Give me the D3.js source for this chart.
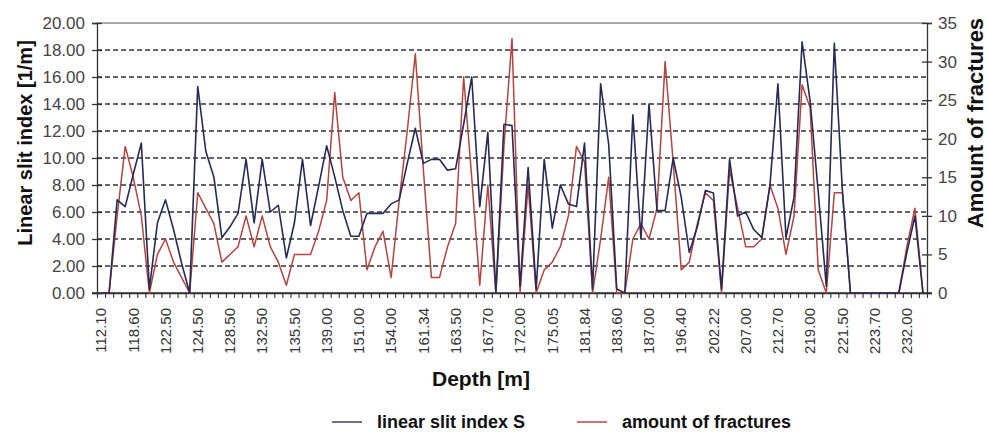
<!DOCTYPE html>
<html>
<head>
<meta charset="utf-8">
<script src="https://cdn.jsdelivr.net/npm/d3@7"></script>
<style>
  html, body { margin: 0; padding: 0; background: #fff; }
  svg { display: block; font-family: "Liberation Sans", Arial, sans-serif; }
</style>
</head>
<body>
<svg id="chart" width="988" height="432"></svg>
<script>
// ---- data ----
const tickLabels = ["112.10","118.60","122.50","124.50","128.50","132.50","135.50","139.00","151.00","154.00","161.34","163.50","167.70","172.00","175.05","181.84","183.60","187.00","196.40","202.22","207.00","212.70","219.00","221.50","223.70","232.00"];
const labelEvery = 4;

const slitIndex = [
  0, 0, 6.9, 6.4, 8.8, 11.1, 0.3, 5.2, 6.9, 4.7,
  2.2, 0, 15.3, 10.5, 8.6, 4.1, 4.9, 5.9, 9.9, 5.2,
  9.9, 6.0, 6.5, 2.6, 5.2, 9.9, 5.0, 7.9, 10.9, 8.6,
  6.1, 4.2, 4.2, 5.9, 5.9, 5.9, 6.6, 6.9, 9.6, 12.2,
  9.6, 9.9, 9.9, 9.1, 9.2, 12.5, 16.0, 6.4, 11.9, 0,
  12.5, 12.4, 0.5, 9.3, 0.3, 9.9, 4.8, 8.0, 6.6, 6.4,
  11.1, 0.3, 15.5, 11.0, 0.3, 0, 13.2, 4.0, 14.0, 6.1,
  6.1, 10.0, 7.1, 3.0, 4.9, 7.6, 7.4, 0.3, 9.9, 5.7,
  6.0, 4.7, 4.1, 7.9, 15.5, 4.1, 7.1, 18.6, 14.2, 7.5,
  0.5, 18.5, 7.6, 0, 0, 0, 0, 0, 0, 0,
  3.0, 5.7, 0
];

const fractures = [
  0, 0, 10, 19, 15, 10, 0, 5, 7, 4,
  2, 0, 13, 11, 9, 4, 5, 6, 10, 6,
  10, 6, 4, 1, 5, 5, 5, 8, 12, 26,
  15, 12, 13, 3, 6, 8, 2, 12, 21, 31,
  16, 2, 2, 6, 9, 28, 15, 1, 14, 0,
  19, 33, 0, 14, 0, 3, 4, 6, 10, 19,
  17, 0, 7, 15, 0, 0, 7, 9, 7, 11,
  30, 17, 3, 4, 9, 13, 12, 0, 16, 11,
  6, 6, 7, 14, 11, 5, 10, 27, 24, 3,
  0, 13, 13, 0, 0, 0, 0, 0, 0, 0,
  6, 11, 0
];

const leftTicks = [0, 2, 4, 6, 8, 10, 12, 14, 16, 18, 20];
const rightTicks = [0, 5, 10, 15, 20, 25, 30, 35];
const seriesNames = ["linear slit index S", "amount of fractures"];
const colors = ["#262a57", "#b5443f"];

// ---- layout ----
const svg = d3.select("#chart");
const L = 97, R = 927, T = 23, B = 293;
const n = slitIndex.length;

const x = d3.scaleBand().domain(d3.range(n)).range([L, R]).padding(0);
const xc = i => x(i) + x.bandwidth() / 2;
const yL = d3.scaleLinear().domain([0, 20]).range([B, T]);
const yR = d3.scaleLinear().domain([0, 35]).range([B, T]);

// grid
svg.append("g").selectAll("line")
  .data(leftTicks.filter(v => v > 0 && v < 20))
  .join("line")
  .attr("x1", L).attr("x2", R)
  .attr("y1", d => yL(d)).attr("y2", d => yL(d))
  .attr("stroke", "#333").attr("stroke-width", 1.3)
  .attr("stroke-dasharray", "5,3");

// top border
svg.append("line").attr("x1", L).attr("x2", R).attr("y1", T).attr("y2", T)
  .attr("stroke", "#a8a8a8").attr("stroke-width", 2);

// left axis
const gL = svg.append("g").attr("transform", `translate(${L},0)`)
  .call(d3.axisLeft(yL).tickValues(leftTicks).tickFormat(d3.format(".2f")).tickSize(5).tickPadding(7));
gL.selectAll(".tick").append("line").attr("x2", 5).attr("stroke", "#333");
gL.select(".domain").attr("stroke", "#333").attr("stroke-width", 1.3);
gL.selectAll(".tick line").attr("stroke", "#333").attr("stroke-width", 1.3);
gL.selectAll("text").attr("font-size", 17).attr("fill", "#444");

// right axis
const gR = svg.append("g").attr("transform", `translate(${R},0)`)
  .call(d3.axisRight(yR).tickValues(rightTicks).tickSize(5).tickPadding(6));
gR.selectAll(".tick").append("line").attr("x2", -5).attr("stroke", "#333");
gR.select(".domain").attr("stroke", "#333").attr("stroke-width", 1.3);
gR.selectAll(".tick line").attr("stroke", "#333").attr("stroke-width", 1.3);
gR.selectAll("text").attr("font-size", 17).attr("fill", "#444");

// bottom minor ticks at category boundaries
const xEdge = d3.scaleLinear().domain([0, n]).range([L, R]);
const gB = svg.append("g").attr("transform", `translate(0,${B})`)
  .call(d3.axisBottom(xEdge).tickValues(d3.range(0, n + 1)).tickFormat("").tickSize(5).tickSizeOuter(0));
gB.select(".domain").attr("stroke", "#333").attr("stroke-width", 1.5);
gB.selectAll(".tick line").attr("stroke", "#333").attr("stroke-width", 1.1);
svg.append("line").attr("x1", L - 5).attr("x2", R + 5).attr("y1", B).attr("y2", B)
  .attr("stroke", "#333").attr("stroke-width", 1.5);

// bottom labels
const labelIdx = tickLabels.map((_, k) => k * labelEvery);
const gX = svg.append("g").attr("transform", `translate(0,${B})`)
  .call(d3.axisBottom(x).tickValues(labelIdx).tickFormat((d, k) => tickLabels[k]).tickSize(0).tickSizeOuter(0));
gX.select(".domain").remove();
gX.selectAll("text")
  .attr("font-size", 15).attr("fill", "#333")
  .attr("transform", "rotate(-90)")
  .attr("text-anchor", "end")
  .attr("x", -15).attr("y", 0).attr("dy", "0.35em");

// lines
const lineL = d3.line().x((d, i) => xc(i)).y(d => yL(d));
const lineR = d3.line().x((d, i) => xc(i)).y(d => yR(d));
svg.append("path").datum(fractures).attr("d", lineR)
  .attr("fill", "none").attr("stroke", colors[1]).attr("stroke-width", 1.5).attr("stroke-linejoin", "round");
svg.append("path").datum(slitIndex).attr("d", lineL)
  .attr("fill", "none").attr("stroke", colors[0]).attr("stroke-width", 1.6).attr("stroke-linejoin", "round");

// titles
svg.append("text").attr("transform", "translate(25,143) rotate(-90)")
  .attr("text-anchor", "middle").attr("dominant-baseline", "central")
  .attr("font-size", 20).attr("font-weight", "bold").attr("fill", "#111")
  .text("Linear slit index [1/m]");
svg.append("text").attr("transform", "translate(975,123) rotate(-90)")
  .attr("text-anchor", "middle").attr("dominant-baseline", "central")
  .attr("font-size", 22).attr("font-weight", "bold").attr("fill", "#111")
  .text("Amount of fractures");
svg.append("text").attr("x", 481).attr("y", 386)
  .attr("text-anchor", "middle")
  .attr("font-size", 21).attr("font-weight", "bold").attr("fill", "#111")
  .text("Depth [m]");

// legend
const legX = [332, 577];
seriesNames.forEach((name, k) => {
  const g = svg.append("g");
  g.append("line").attr("x1", legX[k]).attr("x2", legX[k] + 30).attr("y1", 422).attr("y2", 422)
    .attr("stroke", k === 0 ? "#4a4e69" : "#c0504d").attr("stroke-width", 1.6);
  g.append("text").attr("x", legX[k] + 45).attr("y", 428)
    .attr("font-size", 18).attr("font-weight", "bold").attr("fill", "#111")
    .text(name);
});
</script>
</body>
</html>
